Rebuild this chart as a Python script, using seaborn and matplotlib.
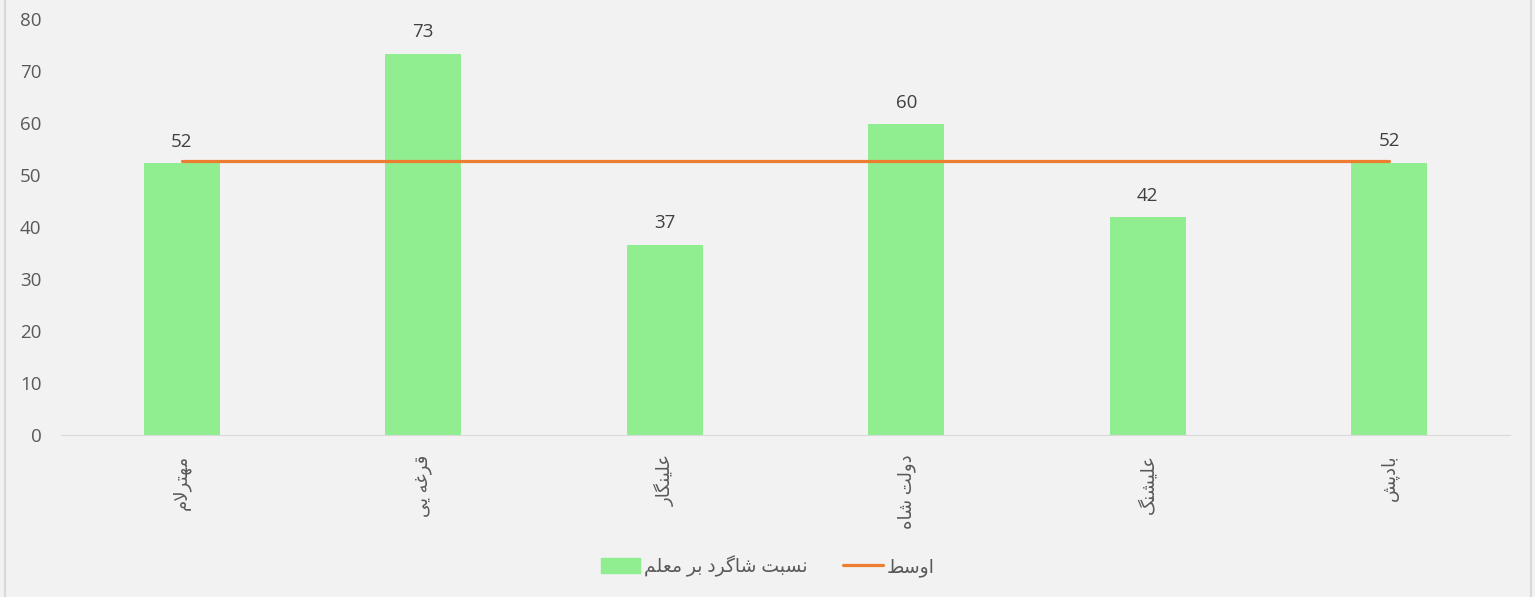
import numpy as np
import seaborn as sns
import matplotlib.pyplot as plt
from matplotlib.lines import Line2D

# data
districts = ['مهترلام', 'قرغه یی', 'علینگار', 'دولت شاه', 'علیشنگ', 'بادپش']
ratio = [52.3, 73.3, 36.6, 59.8, 41.9, 52.4]
average = [52.7, 52.7, 52.7, 52.7, 52.7, 52.7]
bar_label = 'نسبت شاگرد بر معلم'
line_label = 'اوسط'
yticks = [0, 10, 20, 30, 40, 50, 60, 70, 80]

# matplotlib has no arabic shaping, so pick presentation forms by hand
FORMS = {
    'ا': (0xFE8D, 0xFE8E, None, None),
    'ب': (0xFE8F, 0xFE90, 0xFE91, 0xFE92),
    'پ': (0xFB56, 0xFB57, 0xFB58, 0xFB59),
    'ت': (0xFE95, 0xFE96, 0xFE97, 0xFE98),
    'د': (0xFEA9, 0xFEAA, None, None),
    'ر': (0xFEAD, 0xFEAE, None, None),
    'س': (0xFEB1, 0xFEB2, 0xFEB3, 0xFEB4),
    'ش': (0xFEB5, 0xFEB6, 0xFEB7, 0xFEB8),
    'ط': (0xFEC1, 0xFEC2, 0xFEC3, 0xFEC4),
    'ع': (0xFEC9, 0xFECA, 0xFECB, 0xFECC),
    'غ': (0xFECD, 0xFECE, 0xFECF, 0xFED0),
    'ق': (0xFED5, 0xFED6, 0xFED7, 0xFED8),
    'گ': (0xFB92, 0xFB93, 0xFB94, 0xFB95),
    'ل': (0xFEDD, 0xFEDE, 0xFEDF, 0xFEE0),
    'م': (0xFEE1, 0xFEE2, 0xFEE3, 0xFEE4),
    'ن': (0xFEE5, 0xFEE6, 0xFEE7, 0xFEE8),
    'ه': (0xFEE9, 0xFEEA, 0xFEEB, 0xFEEC),
    'و': (0xFEED, 0xFEEE, None, None),
    'ی': (0xFBFC, 0xFBFD, 0xFBFE, 0xFBFF),
}


def dual(c):
    return c in FORMS and FORMS[c][2] is not None


def shape(text):
    chars = []
    i = 0
    while i < len(text):
        if text[i] == 'ل' and i + 1 < len(text) and text[i + 1] == 'ا':
            chars.append('لا')
            i += 2
        else:
            chars.append(text[i])
            i += 1
    out = []
    for k, c in enumerate(chars):
        prev = chars[k - 1] if k > 0 else None
        nxt = chars[k + 1] if k + 1 < len(chars) else None
        jp = prev is not None and dual(prev)
        if c == 'لا':
            out.append(chr(0xFEFC if jp else 0xFEFB))
            continue
        if c not in FORMS:
            out.append(c)
            continue
        jn = dual(c) and nxt is not None and (nxt in FORMS or nxt == 'لا')
        iso, fin, ini, med = FORMS[c]
        if jp and jn:
            g = med
        elif jp:
            g = fin
        elif jn:
            g = ini
        else:
            g = iso
        out.append(chr(g))
    return ''.join(reversed(out))


sns.set_style('white')
plt.rcParams['font.family'] = ['Open Sans', 'DejaVu Sans']
bg = '#F2F2F2'
txt = '#595959'

fig = plt.figure(figsize=(15.35, 5.97), dpi=100, facecolor=bg)
ax = fig.add_axes([61 / 1535, 1 - 435 / 597, 1449 / 1535, 416 / 597])
ax.set_facecolor(bg)

pos = np.arange(len(districts))
sns.barplot(x=pos, y=ratio, color='#90EE90', saturation=1, width=0.315,
            ax=ax, native_scale=True, edgecolor='none', linewidth=0)
ax.plot(pos, average, color='#ED7D31', lw=2.3, solid_capstyle='round')

ax.bar_label(ax.containers[0], fmt='%.0f', padding=9, fontsize=13.5, color='#404040')

ax.set_xlim(-0.5, len(districts) - 0.5)
ax.set_ylim(0, 80)
ax.set_yticks(yticks)
ax.set_xticks(pos)
ax.set_xticklabels([shape(d) for d in districts], rotation=90, fontsize=13,
                   color=txt, va='top')
ax.tick_params(axis='y', length=0, pad=14, labelsize=13.5, labelcolor=txt)
ax.tick_params(axis='x', length=0, pad=14)
for s in ['top', 'right', 'left']:
    ax.spines[s].set_visible(False)
ax.spines['bottom'].set_color('#D9D9D9')
ax.set_xlabel('')
ax.set_ylabel('')

handles = [plt.Rectangle((0, 0), 1, 1, color='#90EE90'),
           Line2D([0], [0], color='#ED7D31', lw=2.3)]
fig.legend(handles, [shape(bar_label), shape(line_label)], loc='center',
           bbox_to_anchor=(0.5, 1 - 566 / 597), ncol=2, frameon=False,
           fontsize=13.5, labelcolor=txt, handlelength=2.1, handleheight=0.8,
           handletextpad=0.2, columnspacing=1.9)

# side borders of the chart frame
for x in [5 / 1535, 1531 / 1535]:
    fig.add_artist(Line2D([x, x], [0, 1], transform=fig.transFigure,
                          color='#D9D9D9', lw=1.5))

fig.savefig('out.png', dpi=100, facecolor=bg)
